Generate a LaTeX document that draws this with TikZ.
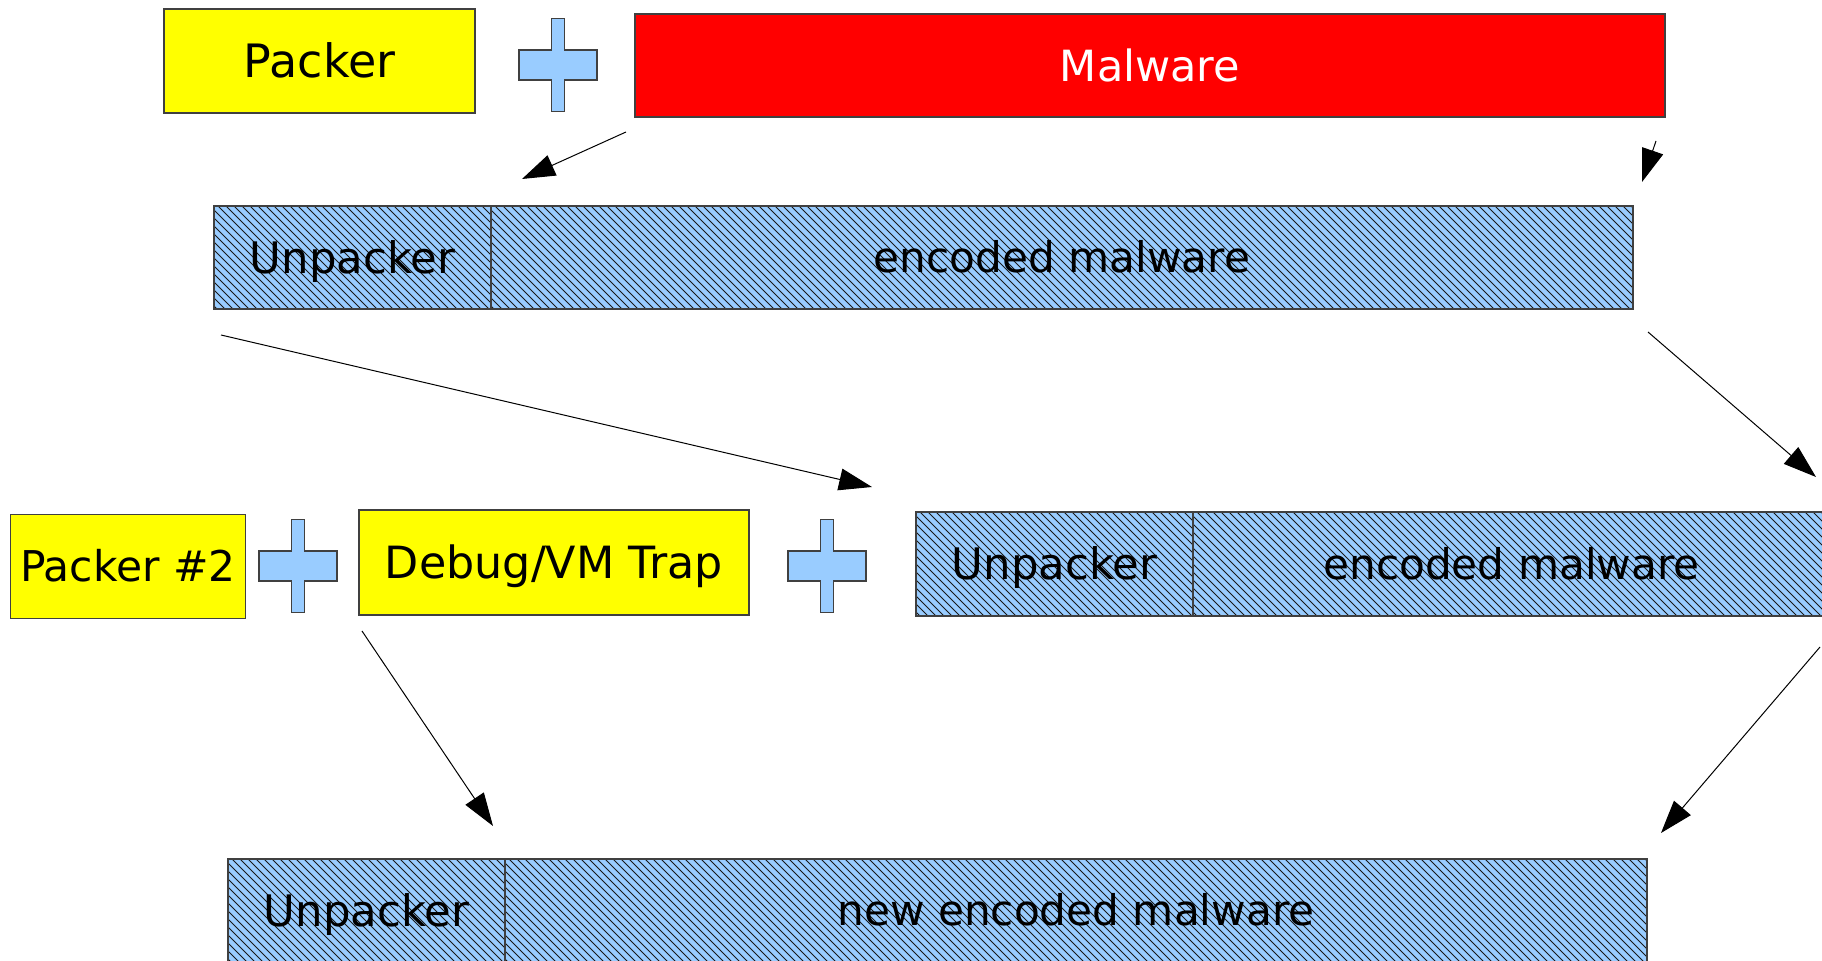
\documentclass[tikz,border=0pt]{standalone}
\usepackage{fontspec}
\setmainfont{DejaVu Sans}
\usetikzlibrary{arrows.meta}
\definecolor{yellowfill}{HTML}{FFFF00}
\definecolor{redfill}{HTML}{FF0000}
\definecolor{bluefill}{HTML}{99CCFF}
\tikzset{
  box/.style={draw=black!75, line width=0.6pt, inner sep=0pt},
  fs/.style n args={2}{font=\fontsize{#1}{#1}\selectfont, text height=#2, text depth=0pt},
  yelbox/.style={box, fill=yellowfill},
  redbox/.style={box, fill=redfill, text=white},
  hatchbox/.style={box, fill=bluefill,
    path picture={
      \foreach \k in {0,...,165} {
        \draw[black!90, line width=0.45pt] ([xshift=\k*4pt-56pt,yshift=2pt]path picture bounding box.north west) -- ++(58pt,-58pt);
      }
    }},
  conn/.style={draw=black, line width=0.5pt, -{Triangle[length=16.5pt,width=11pt]}},
  plusshape/.style={draw=black!75, line width=0.6pt, fill=bluefill},
  plussign/.pic={\path[plusshape] (-6.5,-46.5) -- (6.5,-46.5) -- (6.5,-15) -- (39,-15) -- (39,15) -- (6.5,15) -- (6.5,46.5) -- (-6.5,46.5) -- (-6.5,15) -- (-39,15) -- (-39,-15) -- (-6.5,-15) -- cycle;}
}
\begin{document}
\begin{tikzpicture}[x=0.5pt,y=-0.5pt]
\useasboundingbox (0,0) rectangle (1822,961);
\clip (0,0) rectangle (1822,961);
\fill[white] (0,0) rectangle (1822,961);

% row 1
\node[yelbox, fs={23}{16.77pt}, minimum width=155.5pt, minimum height=52pt] (packer) at (319.5,61) {Packer};
\pic (plusA) at (558,65) {plussign};
\node[redbox, fs={21.5}{15.67pt}, minimum width=515pt, minimum height=51.5pt] (malware) at (1150,65.5) {Malware};

% row 2
\node[hatchbox, fs={21.7}{15.82pt}, minimum width=138.5pt, minimum height=51.5pt] (unpA) at (352.5,257.5) {Unpacker};
\node[hatchbox, fs={21.1}{15.38pt}, minimum width=571pt, minimum height=51.5pt] (encA) at (1062,257.5) {encoded malware};

% row 3
\node[yelbox, fs={21.2}{15.45pt}, minimum width=117.5pt, minimum height=52pt] (packer2) at (128,566.5) {Packer \#2};
\pic (plusB) at (298,566) {plussign};
\node[yelbox, fs={22.2}{16.18pt}, minimum width=195pt, minimum height=52.5pt] (trap) at (554,562.5) {Debug/VM Trap};
\pic (plusC) at (827,566) {plussign};
\node[hatchbox, fs={21.7}{15.82pt}, minimum width=138.5pt, minimum height=52pt] (unpB) at (1054.5,564) {Unpacker};
\node[hatchbox, fs={21.1}{15.38pt}, minimum width=318.5pt, minimum height=52pt] (encB) at (1511.5,564) {encoded malware};

% row 4
\node[hatchbox, fs={21.7}{15.82pt}, minimum width=138.5pt, minimum height=51.5pt] (unpC) at (366.5,910.5) {Unpacker};
\node[hatchbox, fs={21.1}{15.38pt}, minimum width=571pt, minimum height=51.5pt] (encC) at (1076,910.5) {new encoded malware};

% connector ends
\coordinate (a1s) at (626,132);  \coordinate (a1e) at (522,179);
\coordinate (a2s) at (1656,141); \coordinate (a2e) at (1642,182);
\coordinate (a3s) at (221,335);  \coordinate (a3e) at (872,487);
\coordinate (a4s) at (1648,332); \coordinate (a4e) at (1816,477);
\coordinate (a5s) at (362,631);  \coordinate (a5e) at (493,826);
\coordinate (a6s) at (1820,647); \coordinate (a6e) at (1661,833);

\draw[conn] (a1s) -- (a1e);
\draw[conn] (a2s) -- (a2e);
\draw[conn] (a3s) -- (a3e);
\draw[conn] (a4s) -- (a4e);
\draw[conn] (a5s) -- (a5e);
\draw[conn] (a6s) -- (a6e);
\end{tikzpicture}
\end{document}
